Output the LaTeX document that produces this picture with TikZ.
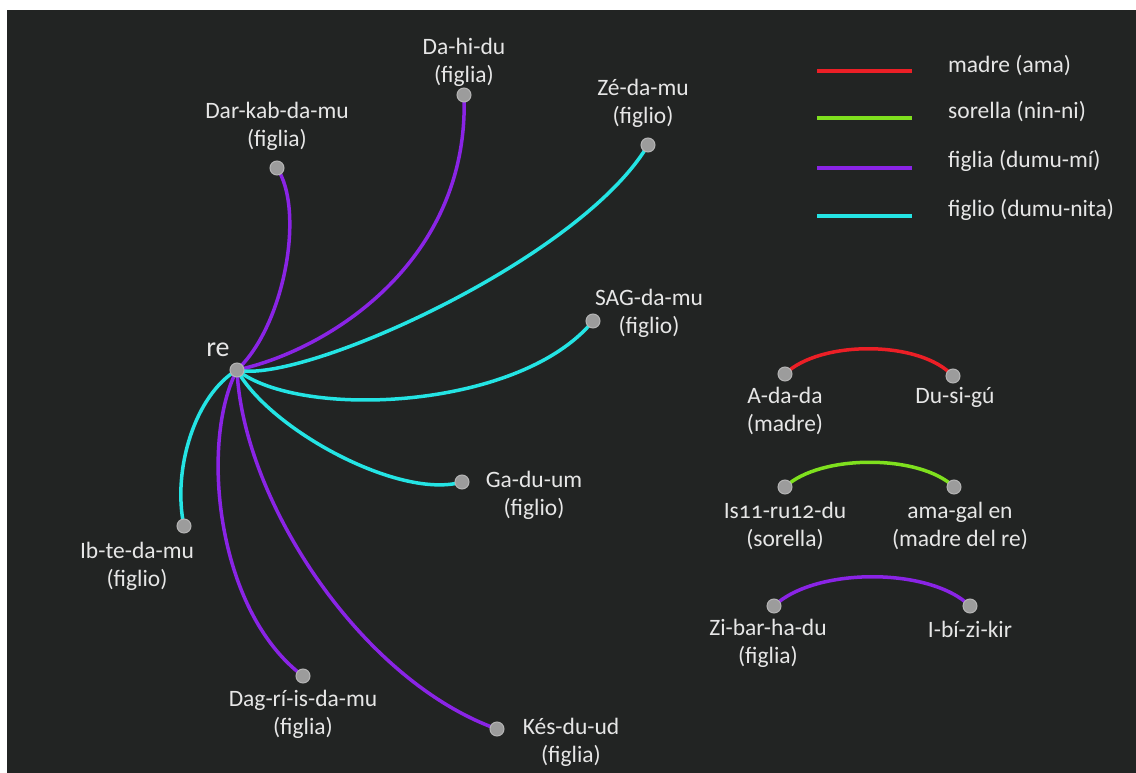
\documentclass[tikz,border=0pt]{standalone}
\usepackage{fontspec}
\setmainfont[Numbers=OldStyle]{Carlito}
\definecolor{bg}{HTML}{222423}
\definecolor{txt}{HTML}{E6E6E6}
\definecolor{cred}{HTML}{EC1F26}
\definecolor{cgreen}{HTML}{7FE01E}
\definecolor{cpurple}{HTML}{8A24E6}
\definecolor{ccyan}{HTML}{24E4E4}
\definecolor{dotfill}{HTML}{9C9C9C}
\definecolor{dotline}{HTML}{B4B4B4}
\tikzset{
  dot/.style={circle,fill=dotfill,draw=dotline,line width=1pt,minimum size=14pt,inner sep=0pt},
  lbl/.style={text=txt,align=center,font=\fontsize{23.5}{28}\selectfont,inner sep=0pt},
  leg/.style={text=txt,anchor=west,font=\fontsize{23.5}{28}\selectfont,inner sep=0pt},
  rel/.style={line width=3.5pt,line cap=round},
  legline/.style={line width=4pt}
}
\begin{document}
\begin{tikzpicture}[x=1pt,y=-1pt]
\useasboundingbox (0,0) rectangle (1136,773);
\fill[white] (0,0) rectangle (1136,773);
\fill[bg] (7,10) rectangle (1136,773);

% legend
\coordinate (l1a) at (817,71); \coordinate (l1b) at (912,71);
\coordinate (l2a) at (817,118); \coordinate (l2b) at (912,118);
\coordinate (l3a) at (817,168); \coordinate (l3b) at (912,168);
\coordinate (l4a) at (817,216); \coordinate (l4b) at (912,216);
\draw[legline,cred] (l1a) -- (l1b);
\draw[legline,cgreen] (l2a) -- (l2b);
\draw[legline,cpurple] (l3a) -- (l3b);
\draw[legline,ccyan] (l4a) -- (l4b);
\node[leg] (t1) at (948,66) {madre (ama)};
\node[leg] (t2) at (948,112) {sorella (nin-ni)};
\node[leg] (t3) at (948,161) {figlia (dumu-mí)};
\node[leg] (t4) at (948,210) {figlio (dumu-nita)};

% coordinates of dots
\coordinate (re) at (237,370);
\coordinate (dar) at (277,168);
\coordinate (dah) at (464,95);
\coordinate (zed) at (648,145);
\coordinate (sag) at (593,321);
\coordinate (gad) at (462,482);
\coordinate (ibt) at (184,526);
\coordinate (dag) at (303,676);
\coordinate (kes) at (497,729);
\coordinate (ada) at (785,374);
\coordinate (dus) at (953,376);
\coordinate (iss) at (785,487);
\coordinate (ama) at (954,487);
\coordinate (zib) at (774,606);
\coordinate (ibi) at (970,606);

% connectors
\draw[rel,cpurple] (re) .. controls (285,325) and (305,210) .. (dar);
\draw[rel,cpurple] (re) .. controls (330,350) and (470,260) .. (dah);
\draw[rel,ccyan] (re) .. controls (300,385) and (580,260) .. (zed);
\draw[rel,ccyan] (re) .. controls (300,420) and (520,410) .. (sag);
\draw[rel,ccyan] (re) .. controls (270,430) and (400,500) .. (gad);
\draw[rel,ccyan] (re) .. controls (195,395) and (172,470) .. (ibt);
\draw[rel,cpurple] (re) .. controls (200,440) and (215,610) .. (dag);
\draw[rel,cpurple] (re) .. controls (243,500) and (360,680) .. (kes);
\draw[rel,cred] (ada) .. controls (820,340) and (920,340) .. (dus);
\draw[rel,cgreen] (iss) .. controls (820,454) and (920,454) .. (ama);
\draw[rel,cpurple] (zib) .. controls (815,567) and (930,567) .. (ibi);

% dots
\foreach \p in {re,dar,dah,zed,sag,gad,ibt,dag,kes,ada,dus,iss,ama,zib,ibi}
  \node[dot] (d\p) at (\p) {};

% labels
\node[lbl,font=\fontsize{28}{30}\selectfont] (Lre) at (218,350) {re};
\node[lbl] (Ldar) at (277,126) {Dar-kab-da-mu\\(figlia)};
\node[lbl] (Ldah) at (464,62) {Da-hi-du\\(figlia)};
\node[lbl] (Lzed) at (643,103) {Zé-da-mu\\(figlio)};
\node[lbl] (Lsag) at (649,313) {SAG-da-mu\\(figlio)};
\node[lbl] (Lgad) at (534,495) {Ga-du-um\\(figlio)};
\node[lbl] (Libt) at (137,566) {Ib-te-da-mu\\(figlio)};
\node[lbl] (Ldag) at (303,714) {Dag-rí-is-da-mu\\(figlia)};
\node[lbl] (Lkes) at (571,742) {Kés-du-ud\\(figlia)};
\node[lbl] (Lada) at (785,411) {A-da-da\\(madre)};
\node[lbl] (Ldus) at (955,397) {Du-si-gú};
\node[lbl] (Liss) at (785,526) {Is11-ru12-du\\(sorella)};
\node[lbl] (Lama) at (960,526) {ama-gal en\\(madre del re)};
\node[lbl] (Lzib) at (768,643) {Zi-bar-ha-du\\(figlia)};
\node[lbl] (Libi) at (970,629) {I-bí-zi-kir};
\end{tikzpicture}
\end{document}
